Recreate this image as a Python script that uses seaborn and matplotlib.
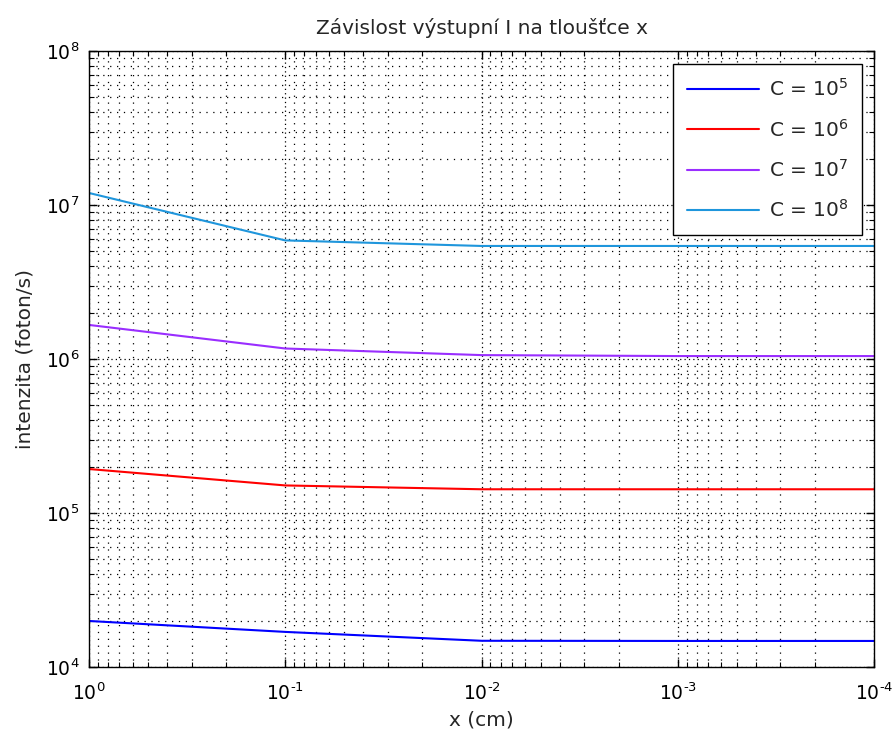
import matplotlib
matplotlib.use("Agg")
import matplotlib.pyplot as plt
from matplotlib.ticker import LogLocator, FuncFormatter, NullFormatter
import numpy as np
import pandas as pd
import seaborn as sns

# thickness (cm) and output intensity (photon/s) for each source strength C
thickness = [1.0, 0.1, 0.01, 0.001, 0.0001]
i_c1e5 = [1.99e4, 1.69e4, 1.48e4, 1.476e4, 1.476e4]
i_c1e6 = [1.93e5, 1.51e5, 1.426e5, 1.426e5, 1.426e5]
i_c1e7 = [1.664e6, 1.17e6, 1.06e6, 1.045e6, 1.045e6]
i_c1e8 = [1.197e7, 5.89e6, 5.42e6, 5.42e6, 5.42e6]

series_labels = [r"C = $\mathdefault{10^{5}}$", r"C = $\mathdefault{10^{6}}$",
                 r"C = $\mathdefault{10^{7}}$", r"C = $\mathdefault{10^{8}}$"]
series_values = [i_c1e5, i_c1e6, i_c1e7, i_c1e8]
series_colors = ["#0000FF", "#FF0000", "#9A2EFF", "#1F96DC"]

df = pd.concat(
    [pd.DataFrame({"x": thickness, "I": vals, "serie": lab})
     for lab, vals in zip(series_labels, series_values)],
    ignore_index=True,
)

sns.set_style("white")
plt.rcParams["font.family"] = ["DejaVu Sans"]
plt.rcParams["font.size"] = 13.5
plt.rcParams["mathtext.default"] = "regular"


def decade_label(v, pos):
    # "10" with a small exponent; a short hyphen keeps negative exponents compact
    e = int(round(np.log10(v)))
    exp = ("\u2010%d" % -e) if e < 0 else "%d" % e
    return r"$\mathdefault{10^{%s}}$" % exp


fig = plt.figure(figsize=(8.93, 7.38), dpi=100)
ax = fig.add_axes([89 / 893, 1 - 667 / 738, 785 / 893, 616 / 738])

sns.lineplot(data=df, x="x", y="I", hue="serie", hue_order=series_labels,
             palette=series_colors, linewidth=1.5, ax=ax, sort=False)

ax.set_xscale("log")
ax.set_yscale("log")
ax.set_xlim(1, 1e-4)
ax.set_ylim(1e4, 1e8)

ax.xaxis.set_major_locator(LogLocator(base=10, numticks=10))
ax.yaxis.set_major_locator(LogLocator(base=10, numticks=10))
ax.xaxis.set_minor_locator(LogLocator(base=10, subs=np.arange(2, 10), numticks=20))
ax.yaxis.set_minor_locator(LogLocator(base=10, subs=np.arange(2, 10), numticks=20))
ax.xaxis.set_major_formatter(FuncFormatter(decade_label))
ax.yaxis.set_major_formatter(FuncFormatter(decade_label))
ax.xaxis.set_minor_formatter(NullFormatter())
ax.yaxis.set_minor_formatter(NullFormatter())

ax.grid(True, which="major", color="black", linestyle=(0, (1, 2.5)), linewidth=0.9)
ax.grid(True, which="minor", color="black", linestyle=(0, (1, 4.5)), linewidth=0.9)

ax.tick_params(which="both", direction="in", top=True, right=True,
               bottom=True, left=True, colors="black", labelsize=13.5)
ax.tick_params(which="major", length=6, width=1.0)
ax.tick_params(which="minor", length=3.5, width=0.8)
ax.tick_params(axis="x", which="major", pad=11)
ax.tick_params(axis="y", which="major", pad=7)
for s in ax.spines.values():
    s.set_visible(True)
    s.set_color("black")
    s.set_linewidth(1.0)

ax.set_title("Závislost výstupní I na tloušťce x", fontsize=14.5, pad=12)
ax.set_xlabel("x (cm)", fontsize=14.5, labelpad=5)
ax.set_ylabel("intenzita (foton/s)", fontsize=14.5, labelpad=8)

handles, labels = ax.get_legend_handles_labels()
leg = ax.legend(handles, labels, loc="upper right",
                bbox_to_anchor=(0.985, 0.979), borderaxespad=0,
                frameon=True, fancybox=False, edgecolor="black",
                framealpha=1, fontsize=14.5, handlelength=3.6,
                handletextpad=0.45, labelspacing=0.92, borderpad=0.7)
leg.get_frame().set_linewidth(1.0)

fig.savefig("out.png", dpi=100)
